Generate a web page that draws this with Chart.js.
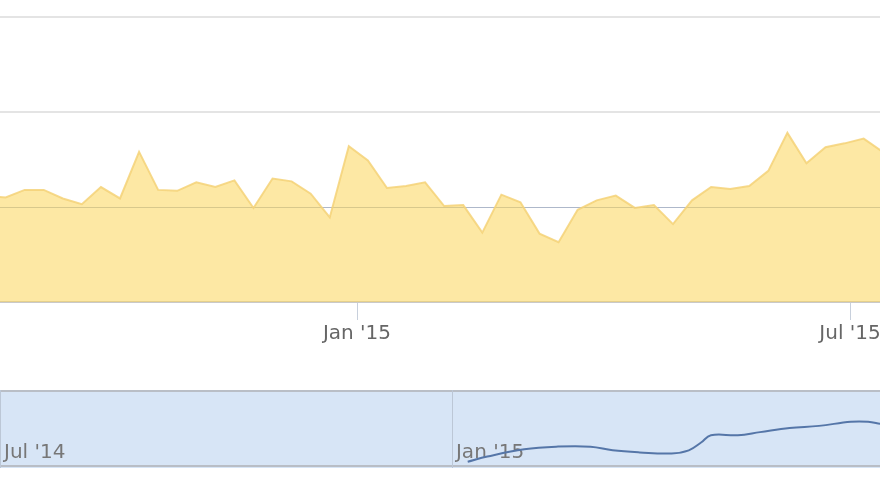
<!DOCTYPE html>
<html>
<head>
<meta charset="utf-8">
<script src="https://cdn.jsdelivr.net/npm/chart.js@4.4.0/dist/chart.umd.min.js"></script>
<style>
  body { margin: 0; background: #fff; overflow: hidden; }
  #wrap { position: relative; width: 880px; height: 495px; }
  #main { position: absolute; left: 0; top: 0; }
  #nav { position: absolute; left: 0; top: 390px; }
</style>
</head>
<body>
<div id="wrap">
  <canvas id="main" width="880" height="360"></canvas>
  <canvas id="nav" width="880" height="78"></canvas>
</div>
<script>
// weekly values of the main area series
const weeks = [
  "2014-08-18", "2014-08-25", "2014-09-01", "2014-09-08", "2014-09-15", "2014-09-22",
  "2014-09-29", "2014-10-06", "2014-10-13", "2014-10-20", "2014-10-27", "2014-11-03",
  "2014-11-10", "2014-11-17", "2014-11-24", "2014-12-01", "2014-12-08", "2014-12-15",
  "2014-12-22", "2014-12-29", "2015-01-05", "2015-01-12", "2015-01-19", "2015-01-26",
  "2015-02-02", "2015-02-09", "2015-02-16", "2015-02-23", "2015-03-02", "2015-03-09",
  "2015-03-16", "2015-03-23", "2015-03-30", "2015-04-06", "2015-04-13", "2015-04-20",
  "2015-04-27", "2015-05-04", "2015-05-11", "2015-05-18", "2015-05-25", "2015-06-01",
  "2015-06-08", "2015-06-15", "2015-06-22", "2015-06-29", "2015-07-06", "2015-07-13"
];
const values = [
  112, 110, 118, 118, 109, 103, 121, 109, 158, 118, 117, 126,
  121, 128, 99, 130, 127, 114, 89, 164, 149, 120, 122, 126,
  101, 102, 73, 113, 105, 72, 63, 97, 107, 112, 99, 102,
  82, 107, 121, 119, 122, 138, 178, 146, 163, 167, 172, 158
];

// navigator line
const navDates = [
  "2015-01-07", "2015-01-15", "2015-01-30", "2015-02-12", "2015-02-26", "2015-03-07",
  "2015-03-18", "2015-03-31", "2015-04-07", "2015-04-12", "2015-04-16", "2015-04-27",
  "2015-05-06", "2015-05-18", "2015-05-30", "2015-06-12", "2015-06-19", "2015-06-24"
];
const navValues = [12, 22, 36, 41, 41, 34, 30, 28, 34, 49, 63, 63, 69, 77, 81, 89, 89, 85];

const mainTickDates = ["2015-01-01", "2015-07-01"];
const mainTickLabels = ["Jan '15", "Jul '15"];
const navTickDates = ["2014-07-01", "2015-01-01"];
const navTickLabels = ["Jul '14", "Jan '15"];
const yTicks = [0, 100, 200, 300];

function day(s) { return Date.parse(s + "T00:00:00Z") / 864e5; }

const jan15 = day("2015-01-01");
const jul14 = day("2014-07-01");

new Chart(document.getElementById("main"), {
  type: "line",
  data: {
    datasets: [{
      data: weeks.map((w, i) => ({ x: day(w), y: values[i] })),
      fill: "origin",
      backgroundColor: "rgba(251,213,90,0.55)",
      borderColor: "rgba(244,210,120,0.85)",
      borderWidth: 2,
      pointRadius: 0,
      tension: 0
    }]
  },
  options: {
    responsive: false,
    animation: false,
    layout: { padding: { top: 17, left: 0, right: 0, bottom: 0 }, autoPadding: false },
    plugins: { legend: { display: false }, tooltip: { enabled: false } },
    scales: {
      x: {
        type: "linear",
        min: jan15 - 357 / 2.724,
        max: jan15 + 523 / 2.724,
        afterBuildTicks: a => { a.ticks = mainTickDates.map(d => ({ value: day(d) })); },
        afterFit: a => { a.height = 58; a.paddingLeft = 0; a.paddingRight = 0; },
        border: { display: false },
        grid: { drawOnChartArea: false, drawTicks: true, tickLength: 18, color: "#c8d0dc", lineWidth: 1 },
        ticks: {
          autoSkip: false, maxRotation: 0, padding: 2,
          color: "#666", font: { family: "DejaVu Sans", size: 20 },
          callback: (v, i) => mainTickLabels[i]
        }
      },
      y: {
        min: 0, max: 300,
        afterBuildTicks: a => { a.ticks = yTicks.map(v => ({ value: v })); },
        afterFit: a => { a.width = 0; },
        border: { display: false },
        grid: {
          drawTicks: false,
          color: c => c.tick.value === 100 ? "#aeb8ca" : (c.tick.value === 0 ? "#c9c9c9" : "#e4e4e4"),
          lineWidth: c => c.tick.value === 100 ? 1 : 2
        },
        ticks: { display: false }
      }
    }
  }
});

new Chart(document.getElementById("nav"), {
  type: "line",
  data: {
    datasets: [{
      data: navDates.map((d, i) => ({ x: day(d), y: navValues[i] })),
      borderColor: "#5576a8",
      borderWidth: 2,
      pointRadius: 0,
      tension: 0.4,
      fill: false
    }]
  },
  options: {
    responsive: false,
    animation: false,
    layout: { padding: 0, autoPadding: false },
    plugins: { legend: { display: false }, tooltip: { enabled: false } },
    scales: {
      x: {
        type: "linear",
        min: jul14 - 1 / 2.462,
        max: jan15 + 428 / 2.462,
        afterBuildTicks: a => { a.ticks = navTickDates.map(d => ({ value: day(d) })); },
        afterFit: a => { a.height = 0; a.paddingLeft = 0; a.paddingRight = 0; },
        border: { display: false },
        grid: { drawTicks: false, color: "#bcc7d6", lineWidth: 1 },
        ticks: {
          autoSkip: false, maxRotation: 0, align: "start", labelOffset: 3,
          mirror: true, padding: 3,
          color: "#777", font: { family: "DejaVu Sans", size: 20 },
          callback: (v, i) => navTickLabels[i]
        }
      },
      y: {
        min: 0, max: 150,
        afterFit: a => { a.width = 0; },
        display: false
      }
    }
  },
  plugins: [{
    id: "navBg",
    beforeDraw(chart) {
      const { ctx, chartArea: a } = chart;
      ctx.save();
      ctx.fillStyle = "#d7e5f6";
      ctx.fillRect(a.left, a.top, a.right - a.left, a.bottom - a.top);
      ctx.strokeStyle = "#b9bec6";
      ctx.lineWidth = 2;
      ctx.beginPath();
      ctx.moveTo(a.left, a.top + 1); ctx.lineTo(a.right, a.top + 1);
      ctx.moveTo(a.left, a.bottom - 2); ctx.lineTo(a.right, a.bottom - 2);
      ctx.stroke();
      ctx.restore();
    }
  }]
});
</script>
</body>
</html>
